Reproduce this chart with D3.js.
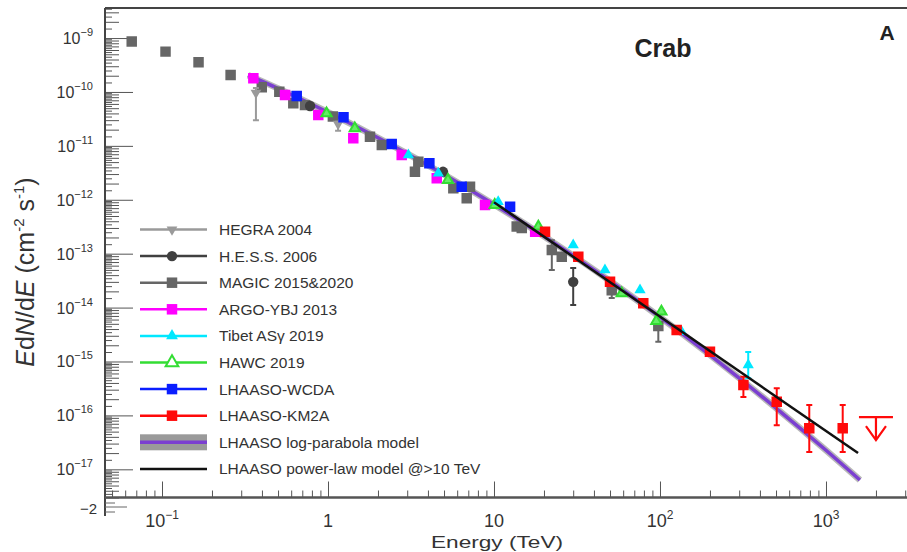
<!DOCTYPE html>
<html>
<head>
<meta charset="utf-8">
<script src="https://cdn.jsdelivr.net/npm/d3@7"></script>
<style>
  body { margin: 0; background: #fff; }
  svg { display: block; font-family: "Liberation Sans", Arial, sans-serif; }
</style>
</head>
<body>
<div id="vis"></div>
<script>
// Crab spectrum, E dN/dE in cm^-2 s^-1 vs energy in TeV
// each point: [E, F, Flow, Fhigh] (error ends optional)
const hegra = [[0.368, 9.6e-11, 3.0e-11, 1.19e-10], [1.15, 2.55e-11, 1.9e-11, 2.8e-11]]
const hess = [[0.78, 5.5e-11], [4.93, 3.3e-12], [30.0, 3.0e-14, 1.12e-14, 5.4e-14]]
const magic = [[0.0657, 8.6e-10], [0.105, 5.6e-10], [0.166, 3.56e-10], [0.259, 2.06e-10],
  [0.399, 1.22e-10], [0.509, 1.01e-10], [0.618, 6.2e-11], [0.727, 5.7e-11], [1.07, 3.5e-11],
  [1.79, 1.48e-11], [2.11, 1.04e-11], [3.5, 5.1e-12], [3.34, 3.3e-12], [5.69, 1.63e-12],
  [7.17, 1.75e-12], [6.85, 1.07e-12], [13.7, 3.2e-13], [14.7, 3.0e-13],
  [22.3, 1.17e-13, 5.0e-14, 1.78e-13], [25.6, 8.8e-14], [51.2, 2.1e-14, 1.5e-14, 2.6e-14],
  [97.7, 4.56e-15, 2.33e-15, 7.3e-15]]
const argo = [[0.355, 1.79e-10], [0.551, 8.8e-11], [0.874, 3.74e-11], [1.42, 1.38e-11],
  [2.78, 6.8e-12], [4.52, 2.5e-12], [8.83, 8.0e-13], [17.7, 2.56e-13]]
const tibet = [[3.05, 6.8e-12], [4.62, 3.1e-12], [10.6, 9.2e-13], [30.0, 1.45e-13],
  [46.6, 5.0e-14], [75.8, 2.12e-14], [135, 3.57e-15], [340, 8.6e-16, 4.9e-16, 1.5e-15]]
const hawc = [[0.98, 4.0e-11], [1.45, 2.12e-11], [5.28, 2.33e-12], [10.1, 8.0e-13],
  [18.5, 3.17e-13], [58.8, 1.84e-14], [102, 8.4e-15], [95, 5.6e-15]]
const wcda = [[0.648, 8.4e-11], [1.24, 3.4e-11], [2.42, 1.08e-11], [4.08, 4.75e-12],
  [6.39, 1.75e-12], [12.5, 7.45e-13]]
const km2a = [[20.3, 2.56e-13], [32.2, 8.8e-14], [50.0, 3.03e-14], [79.3, 1.2e-14],
  [126, 3.84e-15], [200, 1.52e-15], [318, 3.66e-16, 2.2e-16, 5.2e-16],
  [505, 1.79e-16, 6.6e-17, 3.2e-16], [793, 5.8e-17, 2.1e-17, 1.56e-16],
  [1261, 5.8e-17, 2.1e-17, 1.56e-16]]
const km2aUpperLimit = [[2000, 9.3e-17]]

// model curves
const logParabola = [[0.33, 2.05e-10], [0.5, 1.16e-10], [1, 4.21e-11], [2, 1.41e-11], [3, 7.17e-12],
  [5, 2.94e-12], [10, 8.2e-13], [20, 2.11e-13], [30, 9.2e-14], [50, 3.11e-14], [100, 6.67e-15],
  [200, 1.32e-15], [300, 4.93e-16], [500, 1.37e-16], [1000, 2.26e-17], [1600, 6.35e-18]]
const powerLaw = [[10, 9.0e-13], [1560, 2.0e-17]]

const xTickLabels = [[0.1, "10", "\u22121"], [1, "1", ""], [10, "10", ""], [100, "10", "2"], [1000, "10", "3"]]
const yTickExps = [-9, -10, -11, -12, -13, -14, -15, -16, -17]

const legendItems = [
  {name: "HEGRA 2004", color: "#9a9a9a", shape: "trid"},
  {name: "H.E.S.S. 2006", color: "#404040", shape: "circle"},
  {name: "MAGIC 2015&2020", color: "#666666", shape: "square"},
  {name: "ARGO-YBJ 2013", color: "#ff00ff", shape: "square"},
  {name: "Tibet AS\u03b3 2019", color: "#00e8ff", shape: "tri"},
  {name: "HAWC 2019", color: "#33dd33", shape: "otri"},
  {name: "LHAASO-WCDA", color: "#0a1eff", shape: "square"},
  {name: "LHAASO-KM2A", color: "#ff0a0a", shape: "square"},
  {name: "LHAASO log-parabola model", color: "#7b3fd1", shape: "band"},
  {name: "LHAASO power-law model @>10 TeV", color: "#111111", shape: "line"}
]

const width = 907, height = 552
const plotLeft = 105, plotTop = 8, plotBottom = 497.5, plotRight = 920

let svg = d3.select("#vis").append("svg")
  .attr("width", width).attr("height", height)

let x = d3.scaleLog().domain([0.04535, 3684]).range([plotLeft, plotRight])
let y = d3.scaleLog().domain([3.0e-18, 3.61e-9]).range([plotBottom, plotTop])

svg.append("clipPath").attr("id", "plot")
  .append("rect").attr("x", plotLeft).attr("y", plotTop)
  .attr("width", plotRight - plotLeft).attr("height", plotBottom - plotTop)

// minor / major tick values
function logTicks(lo, hi, steps) {
  let out = []
  for (let p = lo; p <= hi; p++)
    steps.forEach(k => out.push(k * Math.pow(10, p)))
  return out
}
let yMinor = logTicks(-18, -9, [2, 3, 4, 5, 6, 7, 8, 9]).filter(v => v > 3.0e-18 && v < 3.61e-9)
let yHalf = logTicks(-18, -9, [1.5, 2.5, 3.5, 4.5, 5.5, 6.5, 7.5, 8.5, 9.5]).filter(v => v > 3.0e-18 && v < 3.61e-9)
let yMajor = yTickExps.map(e => Math.pow(10, e))
let xMinor = logTicks(-2, 3, [2, 3, 4, 5, 6, 7, 8, 9]).filter(v => v > 0.04535 && v < 3684)
let xMajor = [0.1, 1, 10, 100, 1000]

function styleAxis(g) {
  g.select(".domain").remove()
  g.selectAll("line").attr("stroke", "#555").attr("stroke-width", 1)
}

svg.append("g").attr("transform", `translate(${plotLeft},0)`)
  .call(d3.axisLeft(y).tickValues(yHalf).tickSize(-7).tickFormat("")).call(styleAxis)
svg.append("g").attr("transform", `translate(${plotLeft},0)`)
  .call(d3.axisLeft(y).tickValues(yMinor).tickSize(-14).tickFormat("")).call(styleAxis)
svg.append("g").attr("transform", `translate(${plotLeft},0)`)
  .call(d3.axisLeft(y).tickValues(yMajor).tickSize(-28).tickFormat("")).call(styleAxis)
svg.append("g").attr("transform", `translate(0,${plotBottom})`)
  .call(d3.axisBottom(x).tickValues(xMinor).tickSize(-7).tickFormat("")).call(styleAxis)
svg.append("g").attr("transform", `translate(0,${plotBottom})`)
  .call(d3.axisBottom(x).tickValues(xMajor).tickSize(-16).tickFormat("")).call(styleAxis)

// frame
svg.append("line").attr("x1", plotLeft).attr("x2", width).attr("y1", plotTop).attr("y2", plotTop)
  .attr("stroke", "#444").attr("stroke-width", 2)
svg.append("line").attr("x1", plotLeft).attr("x2", plotLeft).attr("y1", plotTop).attr("y2", 516)
  .attr("stroke", "#444").attr("stroke-width", 2)
svg.append("line").attr("x1", plotLeft).attr("x2", width).attr("y1", plotBottom).attr("y2", plotBottom)
  .attr("stroke", "#555").attr("stroke-width", 2.5)
// stray ticks of the panel below
svg.selectAll(".stray").data([503, 507, 512]).enter().append("line")
  .attr("x1", plotLeft).attr("x2", (d, i) => plotLeft + (i == 1 ? 22 : 10)).attr("y1", d => d).attr("y2", d => d)
  .attr("stroke", "#666").attr("stroke-width", 1)
svg.append("text").attr("x", 97).attr("y", 514).attr("text-anchor", "end")
  .attr("font-size", 15).attr("fill", "#333").text("\u22122")

// y tick labels
yTickExps.forEach(e => {
  let t = svg.append("text").attr("x", 93).attr("y", y(Math.pow(10, e)) + 6)
    .attr("text-anchor", "end").attr("fill", "#333")
  t.append("tspan").attr("font-size", 16).text("10")
  t.append("tspan").attr("font-size", 11).attr("dy", -8).text("\u2212" + (-e))
})

// x tick labels
xTickLabels.forEach(d => {
  let t = svg.append("text").attr("x", x(d[0])).attr("y", 527)
    .attr("text-anchor", "middle").attr("fill", "#333")
  t.append("tspan").attr("font-size", 18).text(d[1])
  if (d[2]) t.append("tspan").attr("font-size", 12).attr("dy", -8).text(d[2])
})

svg.append("text").attr("x", 497).attr("y", 548).attr("text-anchor", "middle")
  .attr("font-size", 17).attr("textLength", 132).attr("lengthAdjust", "spacingAndGlyphs")
  .attr("fill", "#333").text("Energy (TeV)")

let yl = svg.append("text").attr("transform", "translate(34,272) rotate(-90)")
  .attr("text-anchor", "middle").attr("font-size", 25).attr("fill", "#333")
yl.append("tspan").attr("font-style", "italic").text("E")
yl.append("tspan").text("d")
yl.append("tspan").attr("font-style", "italic").text("N")
yl.append("tspan").text("/d")
yl.append("tspan").attr("font-style", "italic").text("E")
yl.append("tspan").text(" (cm")
yl.append("tspan").attr("font-size", 15).attr("dy", -10).text("-2")
yl.append("tspan").attr("dy", 10).text(" s")
yl.append("tspan").attr("font-size", 15).attr("dy", -10).text("-1")
yl.append("tspan").attr("dy", 10).text(")")

svg.append("text").attr("x", 663).attr("y", 57).attr("text-anchor", "middle")
  .attr("font-size", 25).attr("font-weight", "bold").attr("fill", "#222").text("Crab")
svg.append("text").attr("x", 887).attr("y", 40).attr("text-anchor", "middle")
  .attr("font-size", 21).attr("font-weight", "bold").attr("fill", "#222").text("A")

let plot = svg.append("g").attr("clip-path", "url(#plot)")
let line = d3.line().x(d => x(d[0])).y(d => y(d[1])).curve(d3.curveMonotoneX)

// log-parabola with its error band
plot.append("path").datum(logParabola).attr("d", line).attr("fill", "none")
  .attr("stroke", "#9a9a9a").attr("stroke-width", 6.5).attr("stroke-opacity", 0.7)
plot.append("path").datum(logParabola).attr("d", line).attr("fill", "none")
  .attr("stroke", "#7b3fd1").attr("stroke-width", 3.5)

function symbolPath(shape, inLegend) {
  if (shape == "square") return d3.symbol(d3.symbolSquare, 110)()
  if (shape == "circle") return d3.symbol(d3.symbolCircle, 85)()
  if (shape == "tri") return d3.symbol(d3.symbolTriangle, inLegend ? 60 : 55)()
  if (shape == "otri") return d3.symbol(d3.symbolTriangle, inLegend ? 70 : 45)()
  if (shape == "trid") return d3.symbol(d3.symbolTriangle, 50)()
}

function drawMarker(g, cx, cy, item, inLegend) {
  let p = g.append("path").attr("d", symbolPath(item.shape, inLegend))
    .attr("transform", `translate(${cx},${cy})` + (item.shape == "trid" ? " rotate(180)" : ""))
  if (item.shape == "otri")
    p.attr("fill", inLegend ? "#fff" : "#6e6").attr("stroke", item.color).attr("stroke-width", 2)
  else p.attr("fill", item.color)
}

function drawSeries(data, item) {
  let g = plot.append("g")
  data.forEach(d => {
    if (d.length > 2) {
      g.append("line").attr("x1", x(d[0])).attr("x2", x(d[0]))
        .attr("y1", y(d[2])).attr("y2", y(d[3])).attr("stroke", item.color).attr("stroke-width", 2)
      ;[d[2], d[3]].forEach(v => g.append("line").attr("x1", x(d[0]) - 3).attr("x2", x(d[0]) + 3)
        .attr("y1", y(v)).attr("y2", y(v)).attr("stroke", item.color).attr("stroke-width", 2))
    }
    drawMarker(g, x(d[0]), y(d[1]), item, false)
  })
}

drawSeries(magic, legendItems[2])
drawSeries(hegra, legendItems[0])
drawSeries(hess, legendItems[1])
drawSeries(argo, legendItems[3])
drawSeries(hawc, legendItems[5])
drawSeries(tibet, legendItems[4])
drawSeries(wcda, legendItems[6])
drawSeries(km2a, legendItems[7])

// KM2A upper limit
km2aUpperLimit.forEach(d => {
  let cx = x(d[0]), cy = y(d[1])
  plot.append("path")
    .attr("d", `M${cx - 17},${cy}H${cx + 17}M${cx},${cy}V${cy + 23}M${cx - 10},${cy + 9}L${cx},${cy + 23}L${cx + 10},${cy + 9}`)
    .attr("fill", "none").attr("stroke", "#ff0a0a").attr("stroke-width", 2.2)
})

plot.append("path").datum(powerLaw).attr("d", d3.line().x(d => x(d[0])).y(d => y(d[1])))
  .attr("fill", "none").attr("stroke", "#111").attr("stroke-width", 2.5)

// legend
let legend = svg.append("g")
legendItems.forEach((item, i) => {
  let ly = 229.5 + i * 26.6
  if (item.shape == "band") {
    legend.append("rect").attr("x", 140).attr("y", ly - 8).attr("width", 67).attr("height", 16)
      .attr("fill", "#9a9a9a")
    legend.append("line").attr("x1", 140).attr("x2", 207).attr("y1", ly).attr("y2", ly)
      .attr("stroke", item.color).attr("stroke-width", 3.5)
  } else {
    legend.append("line").attr("x1", 140).attr("x2", 207).attr("y1", ly).attr("y2", ly)
      .attr("stroke", item.color).attr("stroke-width", 2.5)
    if (item.shape != "line") drawMarker(legend, 172, ly, item, true)
  }
  legend.append("text").attr("x", 219).attr("y", ly + 5.5).attr("font-size", 15.5)
    .attr("fill", "#333").text(item.name)
})
</script>
</body>
</html>
